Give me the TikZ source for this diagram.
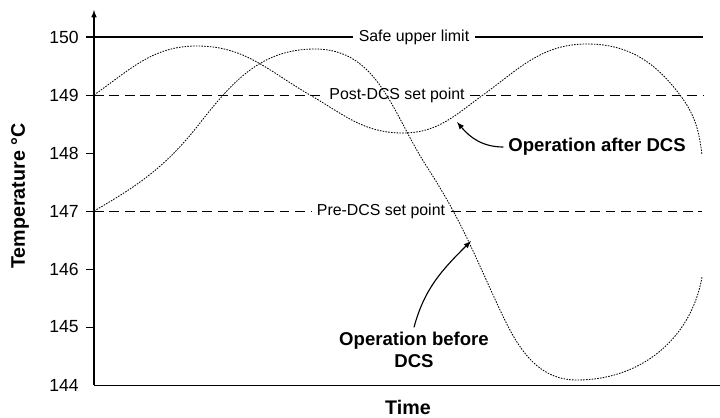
\documentclass[tikz,border=0pt]{standalone}
\usepackage{fontspec}
\setmainfont{Liberation Sans}
\usetikzlibrary{calc,arrows,positioning}

\tikzset{
  axisline/.style={line width=0.7pt},
  setline/.style={line width=0.6pt, dash pattern=on 7pt off 4pt},
  opcurve/.style={line width=0.6pt, dash pattern=on 1.1pt off 0.9pt},
  linelabel/.style={font=\fontsize{11.3}{13}\selectfont, inner sep=4pt},
  ticklabel/.style={font=\fontsize{12.5}{14}\selectfont, anchor=east, inner sep=0pt},
  oplabel/.style={font=\fontsize{13.2}{15.5}\selectfont\bfseries, align=center},
  axislabel/.style={font=\fontsize{14}{16}\selectfont\bfseries, inner sep=0pt},
  pointer/.style={line width=0.8pt, -latex},
}

\begin{document}
\begin{tikzpicture}[x=0.025cm, y=0.025cm]
    \useasboundingbox (0,0) rectangle (720,417);

    % axes
    \coordinate (O) at (94,32);
    \coordinate (ytop) at (94,407);
    \coordinate (xend) at (720,32);
    \draw[axisline, -latex, line width=0.8pt] (O) -- (ytop);
    \draw[axisline] (O) -- (xend);
    \foreach \t [count=\i from 0] in {144,...,150} {
        \node[ticklabel] (t\t) at (79,32+58*\i) {\t};
    }
    \foreach \i in {1,...,6} {
        \draw[axisline] (86,32+58*\i) -- (94,32+58*\i);
    }
    \node[axislabel] (xlab) at (408,10) {Time};
    \node[axislabel, rotate=90] (ylab) at (20,221) {Temperature \textdegree C};

    % limit and set points
    \node[linelabel] (safe) at (414,380) {Safe upper limit};
    \draw[line width=0.9pt] (86,380) -- (safe.west);
    \draw[line width=0.9pt] (safe.east) -- (703,380);
    \node[linelabel] (post) at (397,322) {Post-DCS set point};
    \draw[setline] (94,322) -- (post.west);
    \draw[setline] (post.east) -- (703,322);
    \node[linelabel] (pre) at (381,206) {Pre-DCS set point};
    \draw[setline] (94,206) -- (pre.west);
    \draw[setline] (pre.east) -- (702,206);

    % operation after DCS
    \draw[opcurve] (94,322) to[out=35, in=180] (197,371) to[out=0, in=150] (310,322)
        to[out=-30, in=180] (403,284) to[out=0, in=-144] (483,322)
        to[out=36, in=180] (587,373) to[out=0, in=127] (680,322)
        to[out=-53, in=97] (702,262);
    % operation before DCS
    \draw[opcurve] (94,206) to[out=30, in=-128] (200,294) to[out=52, in=180] (315,368)
        to[out=0, in=123] (427,250) to[out=-57, in=115] (500,107)
        to[out=-65, in=180] (577,37) to[out=0, in=-100] (702,140);

    \node[oplabel] (after) at (597,270) {Operation after DCS};
    \node[oplabel] (before) at (414,67) {Operation before\\DCS};
    \coordinate (aftertip) at (457,295);
    \coordinate (beforetip) at (471,176);
    \draw[pointer] (after.west) to[out=180, in=-50] (aftertip);
    \draw[pointer] (before.north) to[out=75, in=-135] (beforetip);
\end{tikzpicture}
\end{document}
